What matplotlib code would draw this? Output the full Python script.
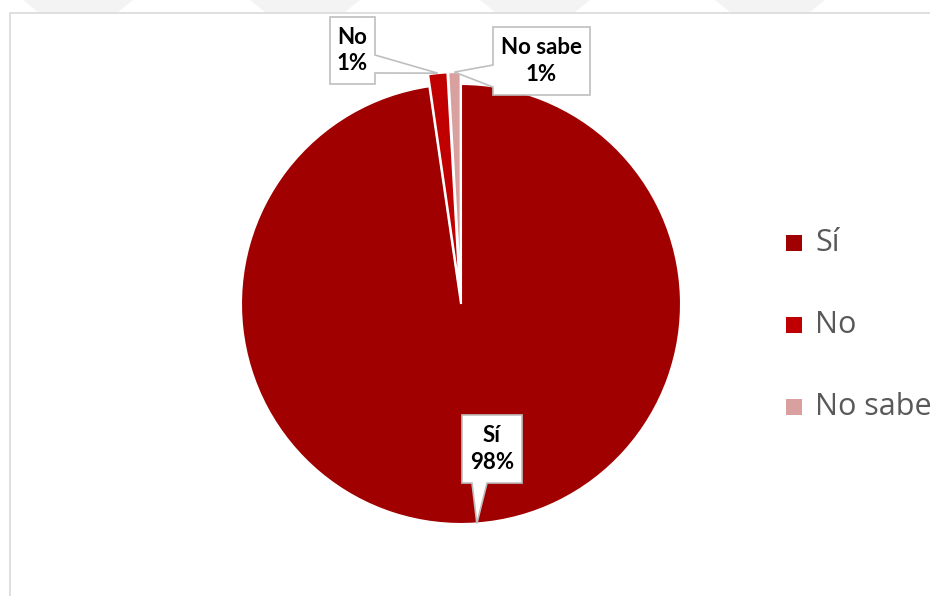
import numpy as np
import matplotlib
matplotlib.use('Agg')
from matplotlib import pyplot as plt
from matplotlib.patches import Polygon, Rectangle

categories = ['Sí', 'No', 'No sabe']
values = [97.7, 1.4, 0.9]
colors = ['#A00000', '#C00000', '#D9A0A0']

W, H = 930, 596

def P(x, y):
    # pixel coords (origin top-left) -> data coords
    return (x, H - y)

fig = plt.figure(figsize=(W / 100, H / 100), dpi=100)
ax = fig.add_axes([0, 0, 1, 1])

# faint slide background at the very top
for x0 in [23, 250, 480, 715]:
    ax.add_patch(Polygon([P(x0, 0), P(x0 + 110, 0), P(x0 + 95, 12), P(x0 + 15, 12)],
                         closed=True, facecolor='#F3F3F3', edgecolor='none', zorder=0))

# chart area border (top and left)
ax.plot([10, 10, W], [0, H - 12.5, H - 12.5], color='#D9D9D9', lw=1.2, zorder=1)

wedges, _ = ax.pie(values, colors=colors, startangle=90, counterclock=False,
                   center=P(461, 304), radius=220, explode=[0, 12, 12],
                   wedgeprops=dict(edgecolor='white', linewidth=1.5))
ax.set_xlim(0, W)
ax.set_ylim(0, H)
ax.set_aspect('auto')
ax.axis('off')

def tip_of(w):
    # middle of the outer arc of a wedge (data coords)
    th = np.deg2rad((w.theta1 + w.theta2) / 2)
    cx, cy = w.center
    return (cx + w.r * np.cos(th), cy + w.r * np.sin(th))

# callout boxes: (x0, y0, x1, y1) in px, side of the pointer, pointer base
boxes = [(462, 415, 522, 483), (330, 17, 375, 84), (493, 27, 590, 95)]
sides = ['bottom', 'right', 'left']
bases = [(472, 487), (55, 73), (65, 87)]

for w, cat, v, box, side, base in zip(wedges, categories, values, boxes, sides, bases):
    x0, y0, x1, y1 = box
    tip = tip_of(w)
    if side == 'right':
        verts = [P(x0, y0), P(x1, y0), P(x1, base[0]), tip, P(x1, base[1]), P(x1, y1), P(x0, y1)]
    elif side == 'left':
        verts = [P(x0, y0), P(x1, y0), P(x1, y1), P(x0, y1), P(x0, base[1]), tip, P(x0, base[0])]
    else:
        verts = [P(x0, y0), P(x1, y0), P(x1, y1), P(base[1], y1), tip, P(base[0], y1), P(x0, y1)]
    ax.add_patch(Polygon(verts, closed=True, facecolor='white', edgecolor='#BFBFBF',
                         lw=1.2, zorder=5))
    cx, cy = P((x0 + x1) / 2, (y0 + y1) / 2)
    ax.text(cx, cy, f'{cat}\n{round(v)}%', ha='center', va='center', fontsize=16,
            fontweight='bold', family='Lato', color='black', linespacing=1.32, zorder=6)

# legend on the right
for i, (cat, col) in enumerate(zip(categories, colors)):
    y = 243 + 82 * i
    ax.add_patch(Rectangle(P(786, y + 8), 16, 16, facecolor=col, edgecolor='none'))
    ax.text(*P(815, y), cat, ha='left', va='center', fontsize=22, family='Open Sans',
            color='#595959', clip_on=False)

fig.savefig('out.png', dpi=100)
